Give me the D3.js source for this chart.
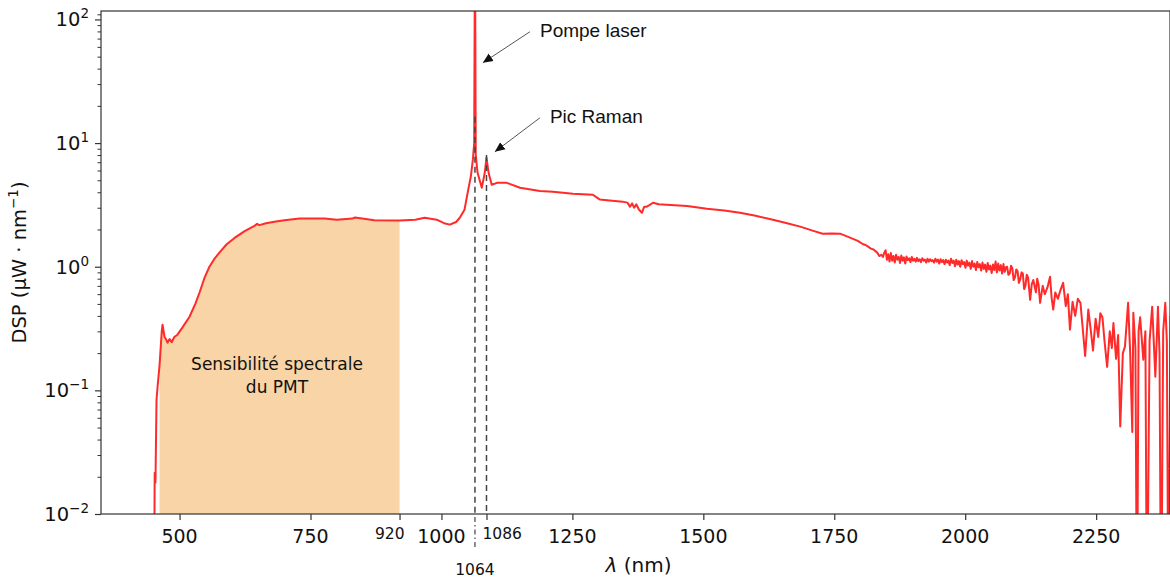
<!DOCTYPE html>
<html>
<head>
<meta charset="utf-8">
<script src="https://cdn.jsdelivr.net/npm/d3@7"></script>
<style>
  body { margin: 0; background: #fff; }
  text { font-family: "DejaVu Sans", sans-serif; fill: #111; }
</style>
</head>
<body>
<div id="viz"></div>
<script>

// wavelength (nm) and power spectral density (µW/nm)
let wavelength = [
  451, 452.5, 454, 456, 458, 461.8, 466, 467.5, 471.3, 474, 477, 481, 485, 490, 496, 505,
  519, 530, 538, 547, 557, 566, 576, 590, 605, 625, 643, 648, 652, 665, 681, 700, 729, 777,
  800, 830, 835, 872, 920,
  950, 968, 991, 1005, 1016, 1028, 1035, 1044, 1050, 1056, 1060, 1062.5, 1063.5, 1064.5,
  1065.5, 1069, 1077, 1082.7, 1086, 1090, 1096, 1106, 1125, 1150, 1188, 1213, 1251, 1289,
  1302, 1331, 1346, 1355, 1360, 1364, 1368, 1372, 1377, 1382.7, 1387, 1392, 1397, 1404,
  1415, 1430, 1469, 1507, 1540, 1570, 1600, 1633, 1660, 1685, 1710, 1728, 1745, 1761,
  1780, 1795, 1805, 1810, 1820, 1825, 1832, 1836, 1840
];

let dsp = [
  0.001, 0.0216, 0.018, 0.084, 0.107, 0.16, 0.30, 0.34, 0.27, 0.26, 0.243, 0.26, 0.245, 0.27, 0.282, 0.32,
  0.394, 0.50, 0.616, 0.80, 1.0, 1.15, 1.30, 1.52, 1.71, 1.95, 2.14, 2.22, 2.17, 2.25, 2.31, 2.38, 2.45, 2.45,
  2.40, 2.45, 2.50, 2.38, 2.36,
  2.40, 2.49, 2.40, 2.25, 2.19, 2.30, 2.49, 2.89, 3.96, 5.34, 7.34, 10, 130, 130,
  8, 5.75, 4.35, 5.75, 7.62, 5.75, 4.60, 4.77, 4.77, 4.35, 4.10, 4.04, 3.89, 3.82,
  3.50, 3.40, 3.36, 3.30, 3.06, 3.25, 3.0, 3.2, 2.9, 2.73, 3.05, 3.06, 3.15, 3.29,
  3.2, 3.17, 3.10, 2.94, 2.85, 2.73, 2.58, 2.40, 2.25, 2.11, 1.95, 1.85, 1.86, 1.85,
  1.72, 1.62, 1.52, 1.50, 1.40, 1.38, 1.30, 1.22, 1.25
];

// noisy tail of the spectrum
let tailWavelength = [
  1843, 1845.5, 1848, 1850.5, 1853, 1855.5, 1858, 1860.5, 1863, 1865.5, 1868, 1870.5,
  1873, 1875.5, 1878, 1880.5, 1883, 1885.5, 1888, 1890.5, 1893, 1895.5, 1898, 1900.5,
  1903, 1905.5, 1908, 1910.5, 1913, 1915.5, 1918, 1920.5, 1923, 1925.5, 1928, 1930.5,
  1933, 1935.5, 1938, 1940.5, 1943, 1945.5, 1948, 1950.5, 1953, 1955.5, 1958, 1960.5,
  1963, 1965.5, 1968, 1970.5, 1973, 1975.5, 1978, 1980.5, 1983, 1985.5, 1988, 1990.5,
  1993, 1995.5, 1998, 2000.5, 2003, 2005.5, 2008, 2010.5, 2013, 2015.5, 2018, 2020.5,
  2023, 2025.5, 2028, 2030.5, 2033, 2035.5, 2038, 2040.5, 2043, 2045.5, 2048, 2050.5,
  2053, 2055.5, 2058, 2060.5, 2063, 2065.5, 2068, 2070.5, 2073, 2075.5, 2078,
  2080, 2082.5, 2085, 2087.5, 2090, 2092.5, 2095, 2097.5, 2100, 2102.5, 2105, 2107.5,
  2110, 2112.5, 2115, 2117.5, 2120, 2124, 2127, 2130, 2135, 2137.5, 2140, 2143,
  2148, 2152, 2157, 2162, 2165, 2168, 2172, 2177, 2182, 2187, 2192, 2196, 2200, 2205, 2210,
  2215, 2220, 2224, 2229, 2235, 2240, 2244, 2249, 2254, 2258, 2262, 2266, 2271, 2276,
  2280, 2283, 2288, 2292, 2296, 2301, 2305, 2311, 2315, 2319, 2321, 2325, 2328, 2331,
  2334, 2340, 2344, 2347, 2352, 2357, 2363, 2368, 2371, 2374, 2378, 2382, 2385, 2388, 2392
];

let tailDsp = [
  1.20, 1.30, 1.36, 1.14, 1.26, 1.10, 1.29, 1.12, 1.22, 1.08, 1.25, 1.14,
  1.20, 1.07, 1.23, 1.12, 1.19, 1.06, 1.21, 1.13, 1.17, 1.09, 1.20, 1.12,
  1.16, 1.10, 1.18, 1.11, 1.15, 1.09, 1.17, 1.12, 1.14, 1.08, 1.16, 1.10,
  1.15, 1.11, 1.13, 1.08, 1.16, 1.10, 1.14, 1.06, 1.15, 1.09, 1.13, 1.05,
  1.14, 1.08, 1.12, 1.03, 1.16, 1.07, 1.12, 1.01, 1.14, 1.04, 1.11, 1.00,
  1.13, 1.05, 1.09, 0.98, 1.12, 1.02, 1.08, 0.96, 1.11, 1.00, 1.06, 0.94,
  1.09, 0.99, 1.05, 0.93, 1.08, 0.96, 1.04, 0.91, 1.07, 0.95, 1.02, 0.89,
  1.04, 0.94, 1.10, 0.90, 1.06, 0.93, 1.03, 0.88, 1.05, 0.91, 0.99,
  1.00, 0.86, 0.88, 1.02, 0.97, 0.78, 0.82, 0.95, 0.92, 0.74, 0.79, 0.90,
  0.88, 0.66, 0.70, 0.86, 0.82, 0.54, 0.72, 0.78, 0.62, 0.80, 0.72, 0.51,
  0.70, 0.60, 0.68, 0.83, 0.56, 0.45, 0.62, 0.55, 0.65, 0.74, 0.48, 0.60, 0.31, 0.52, 0.40,
  0.55, 0.51, 0.33, 0.19, 0.45, 0.30, 0.21, 0.38, 0.27, 0.42, 0.39, 0.25, 0.155, 0.30,
  0.22, 0.35, 0.18, 0.28, 0.051, 0.20, 0.226, 0.51, 0.20, 0.046, 0.425, 0.22, 0.001, 0.30,
  0.39, 0.177, 0.30, 0.001, 0.25, 0.475, 0.129, 0.475, 0.20, 0.001, 0.30, 0.51, 0.25, 0.001, 0.40
];

// PMT spectral sensitivity band
let pmtBand = [461.8, 920];

let xTicks = [500, 750, 920, 1000, 1086, 1250, 1500, 1750, 2000, 2250];
let smallTicks = [920, 1086];
let yTicks = [0.01, 0.1, 1, 10, 100];
let yExponents = ["\u22122", "\u22121", "0", "1", "2"];

// laser pump (1064) and Raman peak (1086) markers
let markerLines = [1064, 1086];
let markerTops = [16.3, 8.0];

let annotations = [
  { label: "Pompe laser", from: [1169, 79.5], to: [1079, 44.6] },
  { label: "Pic Raman", from: [1188, 16.0], to: [1102, 8.5] }
];

const width = 1170, height = 578;
const margin = { top: 11, right: 0, bottom: 64, left: 101 };

const svg = d3.select('#viz').append('svg')
    .attr('width', width)
    .attr('height', height);

const x = d3.scaleLinear()
    .domain([350, 2391])
    .range([margin.left, width - margin.right]);

const y = d3.scaleLog()
    .domain([0.01, 117])
    .range([height - margin.bottom, margin.top]);

const data = wavelength.map((w, i) => ({ w: w, v: dsp[i] }))
    .concat(tailWavelength.map((w, i) => ({ w: w, v: tailDsp[i] })));

const defs = svg.append('defs');
defs.append('clipPath')
    .attr('id', 'clip')
    .append('rect')
        .attr('x', margin.left)
        .attr('y', margin.top)
        .attr('width', width - margin.left - margin.right)
        .attr('height', height - margin.top - margin.bottom);

defs.append('marker')
    .attr('id', 'head')
    .attr('viewBox', '0 0 10 10')
    .attr('refX', 10).attr('refY', 5)
    .attr('markerWidth', 10).attr('markerHeight', 10)
    .attr('markerUnits', 'userSpaceOnUse')
    .attr('orient', 'auto')
    .append('path')
        .attr('d', 'M0,0.5 L10,5 L0,9.5 Z')
        .attr('fill', '#111');

const plot = svg.append('g').attr('clip-path', 'url(#clip)');

// orange band under the curve
const bandData = data.filter(d => d.w >= pmtBand[0] && d.w <= pmtBand[1]);
const area = d3.area()
    .x(d => x(d.w))
    .y0(y(0.01))
    .y1(d => y(Math.max(d.v, 0.01)));

plot.append('path')
    .datum(bandData)
    .attr('fill', '#f8d4a6')
    .attr('d', area);

const line = d3.line()
    .x(d => x(d.w))
    .y(d => y(d.v));

plot.append('path')
    .datum(data)
    .attr('fill', 'none')
    .attr('stroke', '#ff2a2a')
    .attr('stroke-width', 2)
    .attr('stroke-linejoin', 'round')
    .attr('d', line);

// dashed markers
markerLines.forEach((w, i) => {
    svg.append('line')
        .attr('x1', x(w)).attr('x2', x(w))
        .attr('y1', y(markerTops[i])).attr('y2', y(0.01))
        .attr('stroke', '#444')
        .attr('stroke-width', 1.5)
        .attr('stroke-dasharray', '6,4');
});
// dash-dot extension down to the 1064 label
svg.append('line')
    .attr('x1', x(1064)).attr('x2', x(1064))
    .attr('y1', y(0.01) + 3).attr('y2', y(0.01) + 36)
    .attr('stroke', '#444')
    .attr('stroke-width', 1.2)
    .attr('stroke-dasharray', '5,3,1.5,3');

// frame
svg.append('rect')
    .attr('x', margin.left).attr('y', margin.top)
    .attr('width', width - margin.left - margin.right)
    .attr('height', height - margin.top - margin.bottom)
    .attr('fill', 'none')
    .attr('stroke', '#333')
    .attr('stroke-width', 1.2);

// x axis
const xAxis = svg.append('g')
    .attr('transform', `translate(0,${height - margin.bottom})`)
    .call(d3.axisBottom(x).tickValues(xTicks).tickSize(6).tickFormat(''));
xAxis.select('.domain').remove();
xAxis.selectAll('.tick line').attr('stroke', '#333').attr('stroke-width', 1.2);

xTicks.forEach(t => {
    const small = smallTicks.includes(t);
    let tx = x(t), anchor = 'middle';
    if (t === 920) { tx = x(t) + 5; anchor = 'end'; }
    if (t === 1086) { tx = x(t) - 4; anchor = 'start'; }
    svg.append('text')
        .attr('x', tx)
        .attr('y', small ? 539 : 543)
        .attr('text-anchor', anchor)
        .style('font-size', small ? '15.5px' : '19px')
        .text(t);
});
svg.append('text')
    .attr('x', x(1064))
    .attr('y', 575)
    .attr('text-anchor', 'middle')
    .style('font-size', '15.5px')
    .text('1064');

// y axis
const yMinor = [];
[0.01, 0.1, 1, 10].forEach(d => { for (let k = 2; k <= 9; k++) yMinor.push(d * k); });
yMinor.push(110);

const yAxis = svg.append('g')
    .attr('transform', `translate(${margin.left},0)`)
    .call(d3.axisLeft(y).tickValues(yTicks).tickSize(6).tickFormat(''));
yAxis.select('.domain').remove();
yAxis.selectAll('.tick line').attr('stroke', '#333').attr('stroke-width', 1.2);

const yMinorAxis = svg.append('g')
    .attr('transform', `translate(${margin.left},0)`)
    .call(d3.axisLeft(y).tickValues(yMinor).tickSize(3.5).tickFormat(''));
yMinorAxis.select('.domain').remove();
yMinorAxis.selectAll('.tick line').attr('stroke', '#333').attr('stroke-width', 1);

yTicks.forEach((t, i) => {
    const txt = svg.append('text')
        .attr('x', 89)
        .attr('y', y(t) + 7)
        .attr('text-anchor', 'end')
        .style('font-size', '19.5px');
    txt.append('tspan').text('10');
    txt.append('tspan')
        .attr('dy', -8)
        .style('font-size', '13.5px')
        .text(yExponents[i]);
});

// axis titles
const yTitle = svg.append('text')
    .attr('transform', `translate(26,${(margin.top + height - margin.bottom) / 2}) rotate(-90)`)
    .attr('text-anchor', 'middle')
    .style('font-size', '19.5px');
yTitle.append('tspan').text('DSP (\u03bcW \u00b7 nm');
yTitle.append('tspan').attr('dy', -8).style('font-size', '13.5px').text('\u22121');
yTitle.append('tspan').attr('dy', 8).text(')');

const xTitle = svg.append('text')
    .attr('x', (margin.left + width - margin.right) / 2 + 3)
    .attr('y', 572)
    .attr('text-anchor', 'middle')
    .style('font-size', '20px');
xTitle.append('tspan').style('font-style', 'italic').text('\u03bb');
xTitle.append('tspan').text(' (nm)');

// band label
svg.append('text')
    .attr('x', 277).attr('y', 370)
    .attr('text-anchor', 'middle')
    .style('font-size', '17px')
    .text('Sensibilité spectrale');
svg.append('text')
    .attr('x', 277).attr('y', 393)
    .attr('text-anchor', 'middle')
    .style('font-size', '17px')
    .text('du PMT');

// arrows
annotations.forEach(a => {
    svg.append('line')
        .attr('x1', x(a.from[0])).attr('y1', y(a.from[1]))
        .attr('x2', x(a.to[0])).attr('y2', y(a.to[1]))
        .attr('stroke', '#555')
        .attr('stroke-width', 1)
        .attr('marker-end', 'url(#head)');
    svg.append('text')
        .attr('x', x(a.from[0]) + 10)
        .attr('y', y(a.from[1]) + 5)
        .style('font-family', '"Liberation Sans", Arial, sans-serif')
        .style('font-size', '19px')
        .text(a.label);
});

</script>
</body>
</html>
